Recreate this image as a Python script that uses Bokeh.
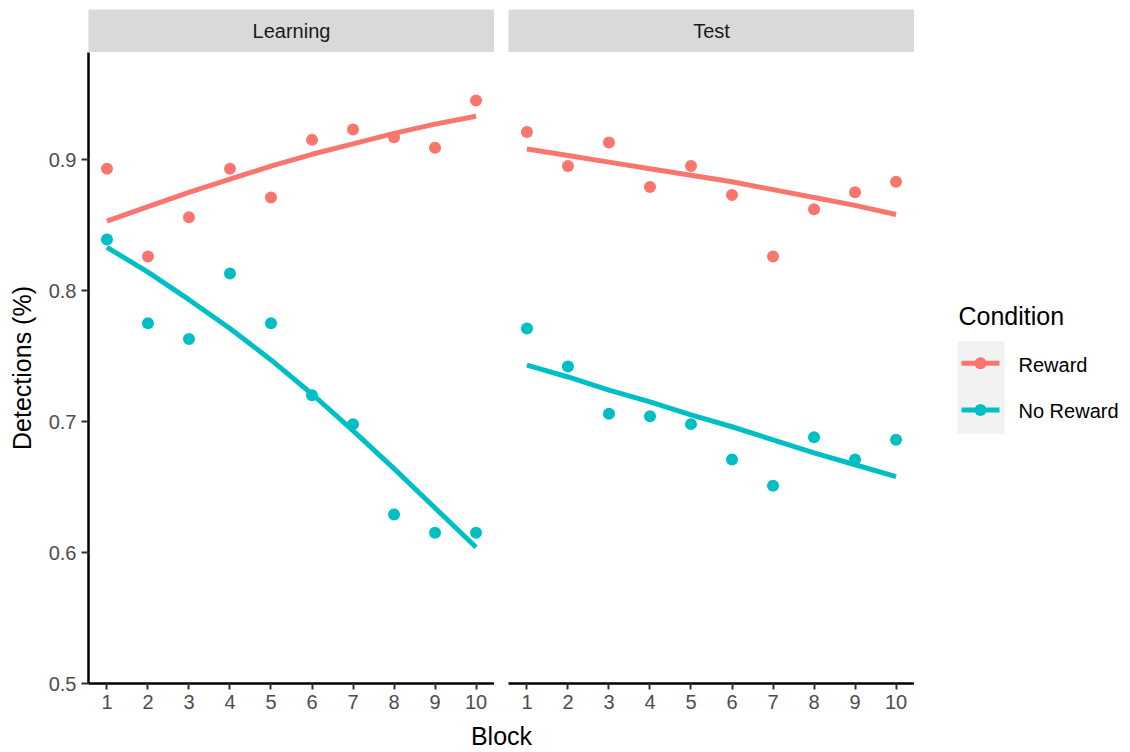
from bokeh.plotting import figure
from bokeh.layouts import row, column
from bokeh.models import Range1d, FixedTicker, ColumnDataSource
from bokeh.core.properties import value
from bokeh.embed import file_html
from bokeh.resources import INLINE

# ---------------- data ----------------
blocks = [1, 2, 3, 4, 5, 6, 7, 8, 9, 10]
phases = ["Learning", "Test"]
conditions = ["Reward", "No Reward"]
cond_colors = ["#F8766D", "#00BFC4"]

learning_reward = [0.893, 0.826, 0.856, 0.893, 0.871, 0.915, 0.923, 0.917, 0.909, 0.945]
learning_noreward = [0.839, 0.775, 0.763, 0.813, 0.775, 0.720, 0.698, 0.629, 0.615, 0.615]
test_reward = [0.921, 0.895, 0.913, 0.879, 0.895, 0.873, 0.826, 0.862, 0.875, 0.883]
test_noreward = [0.771, 0.742, 0.706, 0.704, 0.698, 0.671, 0.651, 0.688, 0.671, 0.686]

# smooth (fitted) curves
learning_reward_fit = [0.853, 0.864, 0.875, 0.885, 0.895, 0.904, 0.912, 0.920, 0.927, 0.933]
learning_noreward_fit = [0.833, 0.814, 0.793, 0.771, 0.747, 0.721, 0.693, 0.664, 0.634, 0.604]
test_reward_fit = [0.908, 0.903, 0.898, 0.893, 0.888, 0.883, 0.877, 0.871, 0.865, 0.858]
test_noreward_fit = [0.743, 0.734, 0.724, 0.715, 0.705, 0.696, 0.686, 0.676, 0.667, 0.658]

y_ticks = [0.5, 0.6, 0.7, 0.8, 0.9]
y_tick_labels = ["0.5", "0.6", "0.7", "0.8", "0.9"]
x_tick_labels = [str(b) for b in blocks]

points = {
    "Learning": [learning_reward, learning_noreward],
    "Test": [test_reward, test_noreward],
}
fits = {
    "Learning": [learning_reward_fit, learning_noreward_fit],
    "Test": [test_reward_fit, test_noreward_fit],
}

FONT = "Liberation Sans"
Y0, Y1 = 0.5, 0.9817
X0, X1 = 0.55, 10.45
PANEL_W = 406
LINE_W = 5
PT_SIZE = 12


def strip(label, left, width):
    s = figure(width=width, height=52, x_range=Range1d(0, 1), y_range=Range1d(0, 1),
               output_backend="svg", toolbar_location=None, tools="",
               min_border_left=left, min_border_right=width - left - PANEL_W,
               min_border_top=9, min_border_bottom=0,
               x_axis_location=None, y_axis_location=None)
    s.grid.visible = False
    s.outline_line_color = None
    s.background_fill_color = "#D9D9D9"
    s.border_fill_color = "white"
    s.text(x=[0.5], y=[0.5], text=[label], text_align="center", text_baseline="middle",
           text_font=value(FONT), text_font_size="20px", text_color="#1A1A1A")
    return s


def panel(phase, show_y):
    left = 88 if show_y else 14
    width = left + PANEL_W
    p = figure(width=width, height=668, x_range=Range1d(X0, X1), y_range=Range1d(Y0, Y1),
               output_backend="svg", toolbar_location=None, tools="",
               min_border_left=left, min_border_right=0, min_border_top=0, min_border_bottom=37,
               y_axis_location="left" if show_y else None)
    p.grid.visible = False
    p.outline_line_color = None
    p.background_fill_color = "white"
    p.border_fill_color = "white"

    xa = p.xaxis[0]
    xa.ticker = FixedTicker(ticks=blocks)
    xa.major_label_overrides = {b: lab for b, lab in zip(blocks, x_tick_labels)}
    xa.axis_line_color = "black"
    xa.axis_line_width = 2.5
    xa.major_tick_line_color = "#333333"
    xa.major_tick_line_width = 2
    xa.major_tick_out = 6
    xa.major_tick_in = 0
    xa.minor_tick_line_color = None
    xa.major_label_text_font = FONT
    xa.major_label_text_font_size = "20px"
    xa.major_label_text_color = "#4D4D4D"
    xa.major_label_standoff = 5

    if show_y:
        ya = p.yaxis[0]
        ya.ticker = FixedTicker(ticks=y_ticks)
        ya.major_label_overrides = {t: lab for t, lab in zip(y_ticks, y_tick_labels)}
        ya.axis_line_color = "black"
        ya.axis_line_width = 2.5
        ya.major_tick_line_color = "#333333"
        ya.major_tick_line_width = 2
        ya.major_tick_out = 7
        ya.major_tick_in = 0
        ya.minor_tick_line_color = None
        ya.major_label_text_font = FONT
        ya.major_label_text_font_size = "20px"
        ya.major_label_text_color = "#4D4D4D"
        ya.major_label_standoff = 5
        ya.axis_label = "Detections (%)"
        ya.axis_label_text_font = FONT
        ya.axis_label_text_font_size = "25px"
        ya.axis_label_text_font_style = "normal"
        ya.axis_label_text_color = "black"
        ya.axis_label_standoff = 10

    for cond, color, fit in zip(conditions, cond_colors, fits[phase]):
        src = ColumnDataSource(dict(block=blocks, fit=fit))
        p.line("block", "fit", source=src, line_color=color, line_width=LINE_W)
    for cond, color, vals in zip(conditions, cond_colors, points[phase]):
        src = ColumnDataSource(dict(block=blocks, det=vals))
        p.scatter("block", "det", source=src, size=PT_SIZE, fill_color=color, line_color=None)
    return p


# ---------------- legend (drawn in its own small canvas) ----------------
LEG_W = 1130 - 494 - (14 + PANEL_W)
leg = figure(width=LEG_W, height=668, x_range=Range1d(0, LEG_W), y_range=Range1d(668, 0),
             output_backend="svg", toolbar_location=None, tools="",
             min_border_left=0, min_border_right=0, min_border_top=0, min_border_bottom=0,
             x_axis_location=None, y_axis_location=None)
leg.grid.visible = False
leg.outline_line_color = None
leg.background_fill_color = "white"
leg.border_fill_color = "white"
leg.text(x=[44], y=[279], text=["Condition"], text_align="left", text_baseline="middle",
         text_font=value(FONT), text_font_size="25px", text_color="black")
leg.quad(left=[43], right=[90], top=[305.5], bottom=[404], fill_color="#F2F2F2", line_color=None)
key_y = [329, 378.5]
for i, (cond, color) in enumerate(zip(conditions, cond_colors)):
    leg.segment(x0=[47], y0=[key_y[i]], x1=[85], y1=[key_y[i]], line_color=color, line_width=LINE_W)
    leg.scatter(x=[66], y=[key_y[i]], size=PT_SIZE, fill_color=color, line_color=None)
    leg.text(x=[104], y=[key_y[i] + 1.5], text=[cond], text_align="left", text_baseline="middle",
             text_font=value(FONT), text_font_size="20px", text_color="black")

# ---------------- x axis title ----------------
bottom = figure(width=1130, height=32, x_range=Range1d(0, 1130), y_range=Range1d(32, 0),
                output_backend="svg", toolbar_location=None, tools="",
                min_border_left=0, min_border_right=0, min_border_top=0, min_border_bottom=0,
                x_axis_location=None, y_axis_location=None)
bottom.grid.visible = False
bottom.outline_line_color = None
bottom.background_fill_color = "white"
bottom.border_fill_color = "white"
bottom.text(x=[501], y=[15], text=["Block"], text_align="center", text_baseline="middle",
            text_font=value(FONT), text_font_size="25px", text_color="black")

strip_row = row(strip(phases[0], 88, 494), strip(phases[1], 14, 14 + PANEL_W))
main_row = row(panel(phases[0], True), panel(phases[1], False), leg)
layout = column(strip_row, main_row, bottom)

open("out.html", "w").write(file_html(layout, INLINE))
